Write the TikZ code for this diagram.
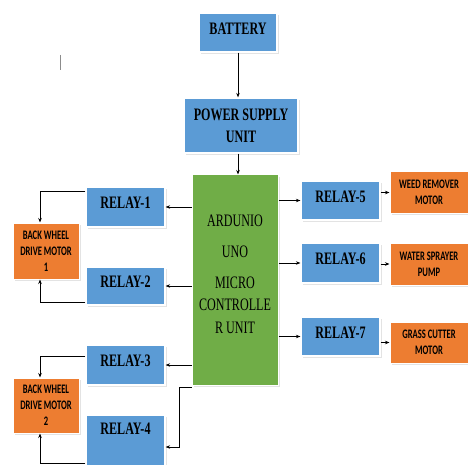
\documentclass[tikz,border=0pt]{standalone}
\usepackage{fontspec}
\newfontfamily\boxfont[FakeStretch=0.69]{Liberation Serif}
\newfontfamily\motorfont[FakeStretch=0.66]{Carlito}
\usetikzlibrary{arrows.meta}
\usetikzlibrary{shadows}
\usetikzlibrary{calc}

\definecolor{relayblue}{HTML}{5B9BD5}
\definecolor{motororange}{HTML}{ED7D31}
\definecolor{unitgreen}{HTML}{70AD47}

\tikzset{
	box/.style={inner sep=1pt, align=center, text=black,
		drop shadow={shadow xshift=1.5pt, shadow yshift=-2pt, fill=black!22}},
	relaybox/.style={box, fill=relayblue, draw=white, line width=1.2pt,
		minimum width=79pt, minimum height=40pt, text depth=8pt,
		font=\boxfont\bfseries\fontsize{17.5}{22}\selectfont},
	motorbox/.style={box, fill=motororange, draw=white, line width=1pt,
		minimum width=78pt, minimum height=41pt,
		font=\motorfont\bfseries\fontsize{13}{16}\selectfont},
	unitbox/.style={box, fill=unitgreen, draw=white, line width=1pt,
		font=\boxfont\fontsize{17.5}{22.5}\selectfont},
	link/.style={-{Stealth[length=4.5pt,width=3.5pt]}, line width=0.7pt}
}

\newcommand{\drawBox}[4]{
	\node[#3] (#1) at (#2) {#4};
}
\newcommand{\drawLinkArrowLeft}[2]{
	\draw[link] (#1.west |- #2) -- (#2.east);
}
\newcommand{\drawLinkArrowRight}[2]{
	\draw[link] (#1.east |- #2) -- (#2.west);
}

\begin{document}
\begin{tikzpicture}[x=1pt, y=-1pt]
		\useasboundingbox (0,0) rectangle (468,465);
		\clip (0,0) rectangle (468,465);

		\coordinate (BAT_C) at (238,32.5);
		\coordinate (PSU_C) at (241,125.5);
		\coordinate (ARD_C) at (235,280);
		\coordinate (R1_C) at (125.5,207);
		\coordinate (R2_C) at (125.5,286);
		\coordinate (R3_C) at (125.5,365);
		\coordinate (R4_C) at (125.5,443);
		\coordinate (R5_C) at (340.5,200.5);
		\coordinate (R6_C) at (340.5,263);
		\coordinate (R7_C) at (340.5,336.5);
		\coordinate (M1_C) at (46,251);
		\coordinate (M2_C) at (46,405.5);
		\coordinate (M5_C) at (429,192.5);
		\coordinate (M6_C) at (429,264);
		\coordinate (M7_C) at (429,342.5);

		\draw[black!45, line width=0.6pt] (60,55) -- (60,70);

		\drawBox{battery}{BAT_C}{relaybox, minimum height=39pt, minimum width=78pt}{BATTERY}
		\drawBox{psu}{PSU_C}{relaybox, minimum height=55pt, minimum width=114pt, text depth=0pt}{POWER SUPPLY\\UNIT}
		\drawBox{arduino}{ARD_C}{unitbox, minimum height=210pt, minimum width=86pt}{\raisebox{0pt}[\dimexpr\height-6pt\relax][\dimexpr\depth+6pt\relax]{\parbox{80pt}{\centering ARDUNIO\\[8.5pt]UNO\\[8.5pt]MICRO\\CONTROLLE\\R UNIT}}}
		\drawBox{relay1}{R1_C}{relaybox}{RELAY-1}
		\drawBox{relay2}{R2_C}{relaybox, minimum height=38pt}{RELAY-2}
		\drawBox{relay3}{R3_C}{relaybox}{RELAY-3}
		\drawBox{relay4}{R4_C}{relaybox, minimum height=56pt, text height=12pt, text depth=30pt}{RELAY-4}
		\drawBox{relay5}{R5_C}{relaybox, minimum height=39pt}{RELAY-5}
		\drawBox{relay6}{R6_C}{relaybox}{RELAY-6}
		\drawBox{relay7}{R7_C}{relaybox, minimum height=39pt}{RELAY-7}
		\drawBox{motor1}{M1_C}{motorbox, minimum width=66pt, minimum height=56pt}{BACK WHEEL\\DRIVE MOTOR\\1}
		\drawBox{motor2}{M2_C}{motorbox, minimum width=66pt, minimum height=55pt}{BACK WHEEL\\DRIVE MOTOR\\2}
		\drawBox{weed}{M5_C}{motorbox}{WEED REMOVER\\MOTOR}
		\drawBox{water}{M6_C}{motorbox, minimum height=42pt}{WATER SPRAYER\\PUMP}
		\drawBox{grass}{M7_C}{motorbox}{GRASS CUTTER\\MOTOR}

		\draw[link] (battery.south) -- (battery.south |- psu.north);
		\draw[link] (battery.south |- psu.south) -- (battery.south |- arduino.north);

		\drawLinkArrowLeft {arduino}{relay1}
		\drawLinkArrowLeft {arduino}{relay2}
		\drawLinkArrowLeft {arduino}{relay3}
		\coordinate (A4) at ($(arduino.south west)+(0,2)$);
		\draw[link] (A4) -- ++(-12,0) |- ([yshift=-4pt]relay4.east);

		\drawLinkArrowRight {arduino}{relay5}
		\drawLinkArrowRight {arduino}{relay6}
		\drawLinkArrowRight {arduino}{relay7}
		\drawLinkArrowRight {relay5}{weed}
		\drawLinkArrowRight {relay6}{water}
		\drawLinkArrowRight {relay7}{grass}

		\draw[link] ([yshift=-5pt]relay1.north west) -| ([xshift=-6pt]motor1.north);
		\draw[link] ([yshift=3pt]relay2.south west) -| ([xshift=-6pt]motor1.south);
		\draw[link] ([yshift=-12pt]relay3.north west) -| ([xshift=-6pt]motor2.north);
		\draw[link] ([yshift=-49pt]relay4.north west) -| ([xshift=-6pt]motor2.south);
	\end{tikzpicture}
\end{document}
